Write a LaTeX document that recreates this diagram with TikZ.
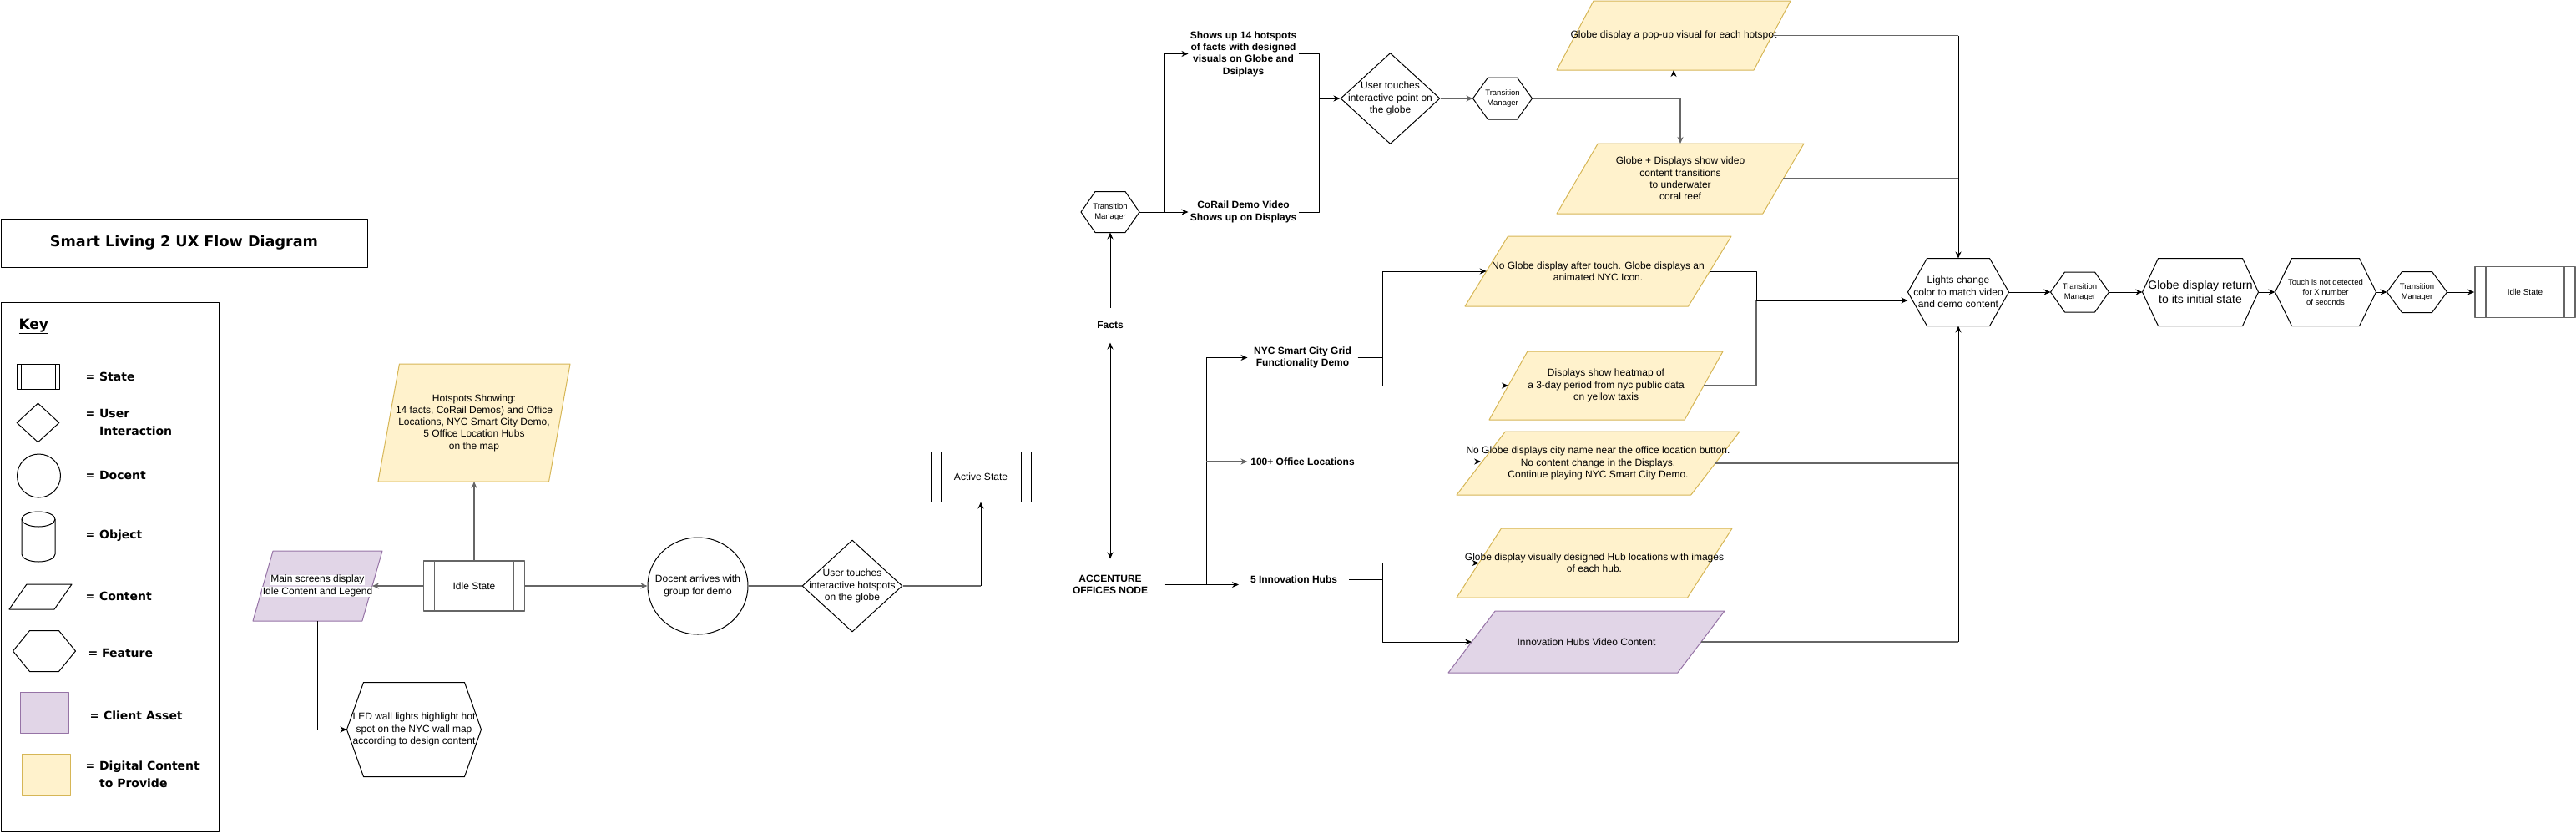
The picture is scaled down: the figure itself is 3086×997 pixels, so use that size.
\documentclass[tikz,border=0pt]{standalone}
\usepackage{fontspec}
\setmainfont{Liberation Sans}
\newfontfamily\keyfont{DejaVu Sans}
\usetikzlibrary{arrows.meta,shapes.geometric}
\definecolor{linegray}{HTML}{666666}
\definecolor{yelfill}{HTML}{FFF2CC}
\definecolor{yeldraw}{HTML}{D6B656}
\definecolor{purfill}{HTML}{E1D5E7}
\definecolor{purdraw}{HTML}{9673A6}
\setlength{\fboxsep}{0.5pt}
\tikzset{
  txt/.style={font=\fontsize{12}{14.3}\selectfont,align=center},
  bold/.style={font=\bfseries\fontsize{12}{14.3}\selectfont,align=center,inner sep=0pt},
  small/.style={font=\fontsize{9.5}{12.3}\selectfont},
  keytxt/.style={font=\keyfont\bfseries\fontsize{14}{21}\selectfont,align=left,anchor=west,inner sep=0pt},
  grayline/.style={draw=linegray,line width=1.8pt},
  yel/.style={fill=yelfill,draw=yeldraw},
  pur/.style={fill=purfill,draw=purdraw},
  statebox/.style={draw,minimum width=120pt,minimum height=60pt,inner sep=0pt,txt,
    path picture={\draw ([xshift=#1]path picture bounding box.north west)--([xshift=#1]path picture bounding box.south west)
      ([xshift=-#1]path picture bounding box.north east)--([xshift=-#1]path picture bounding box.south east);}},
  hexa/.style={inner sep=0pt,align=center,
    append after command={\pgfextra{\let\hexnode\tikzlastnode
      \draw (\hexnode.west)--([xshift=#1]\hexnode.north west)--([xshift=-#1]\hexnode.north east)
        --(\hexnode.east)--([xshift=-#1]\hexnode.south east)--([xshift=#1]\hexnode.south west)--cycle;}}},
  para/.style={trapezium,trapezium stretches=true,trapezium left angle=#1,trapezium right angle={180-#1},
    draw,inner sep=1pt,outer sep=0pt}
}
\begin{document}
\begin{tikzpicture}[x=1pt,y=-1pt,>={Stealth[length=8pt,width=7pt]},line width=1pt,line join=round]
\useasboundingbox (0,0) rectangle (3086,997);
\node[draw,minimum width=439pt,minimum height=58pt,font=\keyfont\bfseries\fontsize{17.6}{20}\selectfont] (title) at (220.5,291) {Smart Living 2 UX Flow Diagram};
\node[draw,minimum width=261pt,minimum height=634pt,inner sep=0pt] (key) at (131.5,679) {};
\node[keytxt,font=\keyfont\bfseries\fontsize{17}{20}\selectfont] (keyhead) at (22,391) {\underline{Key}};
\node[statebox=5pt,minimum width=51pt,minimum height=30pt] (kstate) at (45.5,451) {};
\node[keytxt] (lstate) at (102,451) {= State};
\node[diamond,draw,minimum width=51pt,minimum height=47pt,inner sep=0pt] (kuser) at (45.5,506.5) {};
\node[keytxt] (luser) at (102,506) {= User\\\phantom{= }Interaction};
\node[circle,draw,minimum size=52pt,inner sep=0pt] (kdocent) at (46.5,570) {};
\node[keytxt] (ldocent) at (102,569) {= Docent};
\draw (26,622)--(26,664) arc[start angle=180,end angle=0,x radius=20,y radius=9]--(66,622);
\draw (46,622) ellipse[x radius=20,y radius=9];
\node[keytxt] (lobject) at (102,642) {= Object};
\node[para=57.7,minimum width=75pt,minimum height=30pt] (kcontent) at (48.5,715) {};
\node[keytxt] (lcontent) at (102,714) {= Content};
\node[hexa=20pt,minimum width=74pt,minimum height=48pt] (kfeature) at (53,780) {};
\node[keytxt] (lfeature) at (105,782) {= Feature};
\node[pur,minimum width=58pt,minimum height=49pt] (kclient) at (53,853.5) {};
\node[keytxt] (lclient) at (107,857) {= Client Asset};
\node[yel,minimum width=58pt,minimum height=50pt] (kdigital) at (55,928) {};
\node[keytxt] (ldigital) at (102,928) {= Digital Content\\\phantom{= }to Provide};
\node[statebox=13pt,grayline,minimum width=121pt] (idle) at (568,702) {Idle State};
\node[para=81.9,yel,minimum width=230pt,minimum height=141pt,label={[txt]center:{Hotspots Showing:\\14 facts, CoRail Demos) and Office\\Locations, NYC Smart City Demo,\\5 Office Location Hubs\\on the map}}] (hotspots) at (568,506.5) {};
\node[para=77.3,pur,minimum width=155pt,minimum height=84pt,label={[txt]center:{\colorbox{white}{Main screens display}\\\colorbox{white}{Idle Content and Legend}}}] (mainscr) at (380.5,702) {};
\node[hexa=20pt,txt,minimum width=160pt,minimum height=112pt] (led) at (496,874) {LED wall lights highlight hot\\spot on the NYC wall map\\according to design content};
\node[ellipse,draw,minimum width=120pt,minimum height=116pt,inner sep=0pt,label={[txt]center:{Docent arrives with\\group for demo}}] (docent) at (836,702) {};
\node[diamond,draw,minimum width=120pt,minimum height=110pt,inner sep=0pt,label={[txt]center:{User touches\\interactive hotspots\\on the globe}}] (touch1) at (1021,702) {};
\node[statebox=12pt,minimum width=120pt] (active) at (1175,571) {Active State};
\node[bold,minimum height=41pt] (facts) at (1330,389.5) {Facts};
\node[bold,minimum width=130pt,minimum height=61pt] (offnode) at (1330,700.5) {ACCENTURE\\OFFICES NODE};
\node[hexa=17pt,small,minimum width=69pt,minimum height=48pt] (tm1) at (1330,254) {Transition\\Manager};
\node[bold,minimum width=131pt] (facts14) at (1489.5,64.5) {Shows up 14 hotspots\\of facts with designed\\visuals on Globe and\\Dsiplays};
\node[bold,minimum width=131pt] (corail) at (1489.5,254) {CoRail Demo Video\\Shows up on Displays};
\node[diamond,draw,minimum width=119pt,minimum height=109pt,inner sep=0pt,label={[txt]center:{User touches\\interactive point on\\the globe}}] (touch2) at (1665.5,118) {};
\node[hexa=18pt,small,minimum width=70pt,minimum height=49pt] (tm2) at (1800,118) {Transition\\Manager};
\node[para=77.1,yel,minimum width=280pt,minimum height=83pt,label={[txt]center:{Globe display a pop-up visual for each hotspot}}] (popup) at (2005,42.5) {};
\node[para=76,yel,minimum width=296pt,minimum height=84pt,label={[txt]center:{Globe + Displays show video\\content transitions\\to underwater\\coral reef}}] (coral) at (2013,214) {};
\node[bold,minimum width=131pt] (nyc) at (1560.5,428.5) {NYC Smart City Grid\\Functionality Demo};
\node[bold,minimum width=131pt] (offices) at (1560.5,553) {100+ Office Locations};
\node[bold,minimum width=131pt] (hubs) at (1550,694) {5 Innovation Hubs};
\node[para=76.6,yel,minimum width=319pt,minimum height=84pt,label={[txt]center:{No Globe display after touch. Globe displays an\\animated NYC Icon.}}] (nycicon) at (1914.5,325) {};
\node[para=76.3,yel,minimum width=280pt,minimum height=82pt,label={[txt]center:{Displays show heatmap of\\a 3-day period from nyc public data\\on yellow taxis}}] (heatmap) at (1924,462) {};
\node[para=75.3,yel,minimum width=339pt,minimum height=76pt,label={[txt]center:{No Globe displays city name near the office location button.\\No content change in the Displays.\\Continue playing NYC Smart City Demo.}}] (cityname) at (1914.5,555) {};
\node[para=76.5,yel,minimum width=330pt,minimum height=83pt,label={[txt]center:{Globe display visually designed Hub locations with images\\of each hub.}}] (hubloc) at (1910,674.5) {};
\node[para=75.6,pur,minimum width=331pt,minimum height=74pt,label={[txt]center:{Innovation Hubs Video Content}}] (hubvid) at (1900.5,769) {};
\node[hexa=23pt,txt,minimum width=120pt,minimum height=80pt] (lights) at (2346,350) {Lights change\\color to match video\\and demo content};
\node[hexa=17pt,small,minimum width=69pt,minimum height=47pt] (tm3) at (2491.5,350) {Transition\\Manager};
\node[hexa=19pt,minimum width=138pt,minimum height=80pt,font=\fontsize{14}{16.7}\selectfont] (globeret) at (2636,350) {Globe display return\\to its initial state};
\node[hexa=20pt,minimum width=120pt,minimum height=80pt,font=\fontsize{9.5}{11.7}\selectfont] (notouch) at (2786,350) {Touch is not detected\\for X number\\of seconds};
\node[hexa=18pt,small,minimum width=71pt,minimum height=48pt] (tm4) at (2895.5,350) {Transition\\Manager};
\node[statebox=13pt,grayline,minimum width=120pt,minimum height=61pt,font=\fontsize{10}{12}\selectfont] (idle2) at (3025,350) {Idle State};
\draw[grayline,->] (idle)--(hotspots);
\draw[grayline,->] (idle)--(mainscr);
\draw[grayline,->] (idle)--(docent);
\draw[->] (mainscr.south) |- (led.west);
\draw[grayline] (docent)--(touch1);
\draw[grayline] (touch1.east)--(touch1.east -| active.south);
\draw[->] (touch1.east -| active.south)--(active.south);
\draw (active.east)--(active.east -| facts);
\draw[<->] (facts)--(offnode);
\draw[->] (facts)--(tm1);
\draw[->] (tm1)--(corail);
\draw[->] (tm1.east)--++(30,0) |- (facts14.west);
\coordinate (merge) at (1580,118);
\draw (facts14.east) -| (merge) |- (corail.east);
\draw[->] (merge)--(touch2);
\draw[grayline,->] (touch2)--(tm2);
\draw[grayline] (tm2.east)--(tm2.east -| coral.north);
\draw[->] (tm2.east -| popup.south)--(popup.south);
\draw[grayline,->] (tm2.east -| coral.north)--(coral.north);
\draw[grayline] (popup.east)--(popup.east -| lights.north);
\draw[->] (popup.east -| lights.north)--(lights.north);
\draw[grayline] (coral.east)--(coral.east -| lights.north);
\coordinate (split) at (1445,700.5);
\draw[->] (offnode.east)--(offnode.east -| hubs.west);
\draw[->] (split) |- (nyc.west);
\draw[grayline,->] (split |- offices)--(offices.west);
\draw[->] (nyc.east)--++(29.5,0) |- (nycicon.west);
\draw[->] (nyc.east)--++(29.5,0) |- (heatmap.west);
\coordinate (join) at (2104,360);
\draw (nycicon.east) -| (join);
\draw[grayline] (heatmap.east) -| (join);
\draw[->] (join)--(join -| lights.west);
\draw[->] (offices.east)--(cityname.west |- offices.east);
\draw[grayline] (cityname.east)--(cityname.east -| lights.south);
\draw[->] (hubs.east)--++(40,0) |- (hubloc.west);
\draw[->] (hubs.east)--++(40,0) |- (hubvid.west);
\draw[grayline] (hubloc.east)--(hubloc.east -| lights.south);
\draw[grayline] (hubvid.east)--(hubvid.east -| lights.south);
\draw[->] (hubvid.east -| lights.south)--(lights.south);
\draw[->] (lights)--(tm3);
\draw[->] (tm3)--(globeret);
\draw[->] (globeret)--(notouch);
\draw[->] (notouch)--(tm4);
\draw[->] (tm4)--(idle2);
\end{tikzpicture}
\end{document}
